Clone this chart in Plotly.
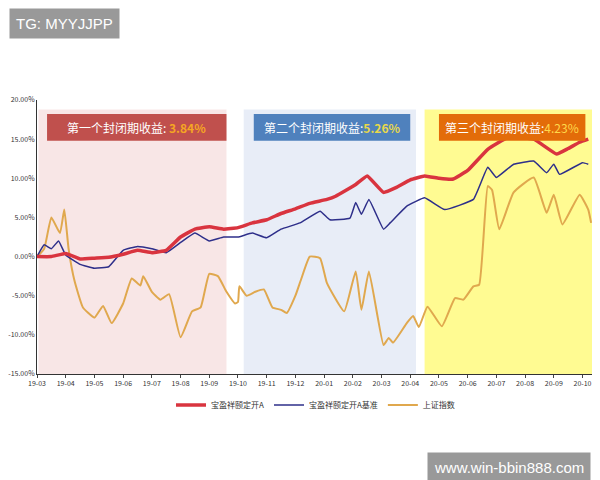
import plotly.graph_objects as go

tick_labels = ["19-03","19-04","19-05","19-06","19-07","19-08","19-09","19-10","19-11","19-12",
               "20-01","20-02","20-03","20-04","20-05","20-06","20-07","20-08","20-09","20-10"]

fund_x = [0,0.5,1,1.5,2,2.5,3,3.5,4,4.5,5,5.5,6,6.5,7,7.5,8,8.5,9,9.5,10.1,10.4,11.1,11.5,12.07,12.5,13,13.5,14,14.5,15,15.7,16.4,17.3,18.1,18.5,18.9,19.2]
fund_y = [0,0,0.4,-0.3,-0.2,-0.1,0.3,0.8,0.5,0.8,2.5,3.5,3.8,3.5,3.7,4.3,4.7,5.5,6.1,6.8,7.3,7.7,9.2,10.3,8.2,8.8,9.8,10.3,10.0,9.9,11.0,13.7,15.2,15.0,13.1,13.8,14.6,15.0]

bench_x = [0,0.25,0.5,0.75,1,1.5,2,2.5,3,3.5,4,4.5,5,5.5,6,6.5,7,7.5,8,8.5,9.16,9.86,10.2,10.9,11.1,11.3,11.56,12.07,12.3,12.9,13.5,14.2,15.2,15.7,16.0,16.6,17.3,17.75,18.0,18.2,19.0,19.2]
bench_y = [0,1.5,1.0,2.0,0.2,-1.0,-1.5,-1.3,0.8,1.3,1.0,0.5,1.8,3.0,2.0,2.5,2.5,3.0,2.4,3.5,4.3,5.8,4.7,4.9,6.9,5.4,7.3,3.5,4.3,6.5,7.5,6.0,7.3,11.4,10.1,11.8,12.2,10.7,11.8,10.5,12.0,11.8]

index_x = [0,0.25,0.5,0.8,0.95,1.1,1.3,1.6,2.0,2.3,2.6,3.0,3.3,3.6,3.7,4.0,4.3,4.6,5.0,5.4,5.7,6.0,6.3,6.6,6.9,7.0,7.05,7.3,7.6,7.9,8.2,8.5,8.7,9.0,9.2,9.5,9.86,10.1,10.7,11.1,11.3,11.56,12.07,12.25,12.4,12.88,13.1,13.3,13.6,14.1,14.56,14.85,15.2,15.4,15.7,15.85,16.1,16.6,17.3,17.75,18.0,18.3,18.9,19.2,19.3]
index_y = [0,1,5.0,3,6.0,1,-3,-6.5,-7.8,-6.3,-8.5,-6,-2.8,-3.7,-2.5,-4.5,-5.5,-4.8,-10.3,-7,-6.5,-2.2,-2.5,-4.5,-6,-5.8,-3.8,-5,-4.5,-4.2,-6.5,-6.8,-7.2,-5,-2.9,0,-0.2,-3.4,-7,-1.9,-6.8,-1.9,-11.3,-10.4,-11,-8.5,-7.6,-9,-6.4,-8.9,-5.3,-5.5,-3.8,-3.6,9.0,8.5,3.5,8.2,10.1,5.6,7.9,4.1,7.9,6.0,4.3]

names = ["宝盈祥颐定开A", "宝盈祥颐定开A基准", "上证指数"]
colors = ["#d9343f", "#2e2f8a", "#e0a84e"]

fig = go.Figure()
fig.add_trace(go.Scatter(x=index_x, y=index_y, name=names[2], mode="lines", line=dict(color=colors[2], width=2, shape="spline", smoothing=0.4)))
fig.add_trace(go.Scatter(x=bench_x, y=bench_y, name=names[1], mode="lines", line=dict(color=colors[1], width=1.5, shape="spline", smoothing=0.3)))
fig.add_trace(go.Scatter(x=fund_x, y=fund_y, name=names[0], mode="lines", line=dict(color=colors[0], width=3.5, shape="spline", smoothing=0.3)))

regions = [(0.05, 6.6, "rgba(240,200,200,0.45)"), (7.2, 13.2, "rgba(210,220,240,0.5)"), (13.5, 19.4, "rgba(255,250,110,0.75)")]
for x0, x1, c in regions:
    fig.add_shape(type="rect", xref="x", yref="y", x0=x0, x1=x1, y0=-15, y1=18.8, fillcolor=c, line_width=0, layer="below")

boxes = [(0.35, 6.6, "#c0504d", "第一个封闭期收益: <b><span style='color:#f5a623'>3.84%</span></b>"),
         (7.55, 13.0, "#4f81bd", "第二个封闭期收益:<b><span style='color:#e8d84a'>5.26%</span></b>"),
         (14.0, 19.1, "#e36c09", "第三个封闭期收益:<span style='color:#ffd84a'>4.23%</span>")]
for x0, x1, c, t in boxes:
    fig.add_shape(type="rect", xref="x", yref="y", x0=x0, x1=x1, y0=14.8, y1=18.2, fillcolor=c, line_width=0)
    fig.add_annotation(x=(x0+x1)/2, y=16.5, xref="x", yref="y", text=t, showarrow=False, font=dict(color="white", size=12, family="Noto Sans CJK SC"))

fig.update_layout(
    width=590, height=472, paper_bgcolor="white", plot_bgcolor="white",
    margin=dict(l=29, r=4, t=92, b=106, autoexpand=False),
    font=dict(family="Noto Sans CJK SC", size=7, color="#333"),
    xaxis=dict(range=[0, 19.4], tickvals=list(range(20)), ticktext=tick_labels, showgrid=False, automargin=False,
               showline=True, linecolor="#333", ticks="outside", ticklen=3, zeroline=False),
    yaxis=dict(range=[-15, 20], tickvals=[-15,-10,-5,0,5,10,15,20], automargin=False,
               ticktext=["-15.00%","-10.00%","-5.00%","0.00%","5.00%","10.00%","15.00%","20.00%"],
               showgrid=False, showline=True, linecolor="#333", zeroline=False),
    legend=dict(orientation="h", x=0.5, xanchor="center", y=-0.06, yanchor="top", traceorder="reversed",
                font=dict(size=8, color="#333")),
    showlegend=True,
)
fig.add_annotation(xref="paper", yref="paper", x=-0.05, y=1.335, xanchor="left", yanchor="top",
                   text="TG: MYYJJPP", showarrow=False, bgcolor="#999999", font=dict(color="white", size=15, family="Liberation Sans"), borderpad=6)
fig.add_annotation(xref="paper", yref="paper", x=0.995, y=-0.283, xanchor="right", yanchor="top",
                   text="www.win-bbin888.com", showarrow=False, bgcolor="#999999", font=dict(color="white", size=15, family="Liberation Sans"), borderpad=6)
fig.write_html("out.html")
